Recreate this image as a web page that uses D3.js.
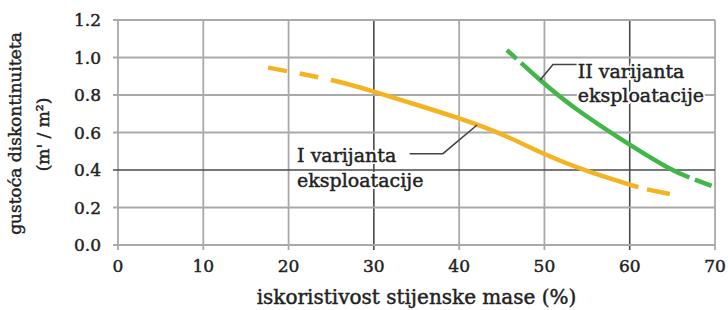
<!DOCTYPE html>
<html>
<head>
<meta charset="utf-8">
<script src="https://cdn.jsdelivr.net/npm/d3@7"></script>
<style>
  body { margin: 0; background: #fff; }
  text { font-family: "DejaVu Serif", "Liberation Serif", serif; fill: #222; stroke: #222; stroke-width: 0.45px; }
</style>
</head>
<body>
<script>
// podaci ocitani sa slike
const xTicks = [0, 10, 20, 30, 40, 50, 60, 70];
const yTicks = [0, 0.2, 0.4, 0.6, 0.8, 1.0, 1.2];
const darkX = [30, 60];
const darkY = [0.4];

// I varijanta eksploatacije (zuta)
const var1X = [17.6, 25, 30, 35, 40, 45, 50, 55, 60, 62, 64.7];
const var1Y = [0.946, 0.88, 0.818, 0.748, 0.675, 0.59, 0.485, 0.395, 0.322, 0.297, 0.272];

// II varijanta eksploatacije (zelena)
const var2X = [45.6, 49.5, 53.9, 60, 64.4, 67, 69.6];
const var2Y = [1.04, 0.88, 0.72, 0.535, 0.415, 0.36, 0.315];

const xTitle = "iskoristivost stijenske mase (%)";
const yTitle1 = "gustoća diskontinuiteta";
const yTitle2 = "(m' / m²)";
const label1 = ["I varijanta", "eksploatacije"];
const label2 = ["II varijanta", "eksploatacije"];

const WIDTH = 728;
const HEIGHT = 310;
const margin = {top: 20, right: 13, bottom: 65, left: 118};

const x = d3.scaleLinear().domain([0, 70]).range([margin.left, WIDTH - margin.right]);
const y = d3.scaleLinear().domain([0, 1.2]).range([HEIGHT - margin.bottom, margin.top]);

const svg = d3.select("body").append("svg")
    .attr("width", WIDTH)
    .attr("height", HEIGHT);

// mreza
const light = "#a9a9a9";
const dark = "#4a4a4a";

svg.append("g").selectAll("line")
  .data(xTicks)
  .enter().append("line")
  .attr("x1", d => x(d)).attr("x2", d => x(d))
  .attr("y1", y(0) + 5).attr("y2", y(1.2))
  .attr("stroke", d => darkX.includes(d) ? dark : light)
  .attr("stroke-width", d => darkX.includes(d) ? 1.6 : 1.8);

svg.append("g").selectAll("line")
  .data(yTicks)
  .enter().append("line")
  .attr("x1", x(0) - 5).attr("x2", x(70))
  .attr("y1", d => y(d)).attr("y2", d => y(d))
  .attr("stroke", d => darkY.includes(d) ? dark : light)
  .attr("stroke-width", d => darkY.includes(d) ? 1.6 : 1.8);

// oznake osi
svg.append("g").selectAll("text")
  .data(yTicks)
  .enter().append("text")
  .attr("x", x(0) - 17)
  .attr("y", d => y(d) + 6)
  .attr("text-anchor", "end")
  .attr("font-size", 17)
  .text(d => d3.format(".1f")(d));

svg.append("g").selectAll("text")
  .data(xTicks)
  .enter().append("text")
  .attr("x", d => x(d))
  .attr("y", y(0) + 27)
  .attr("text-anchor", "middle")
  .attr("font-size", 17)
  .text(d => d);

svg.append("text")
  .attr("x", (x(0) + x(70)) / 2)
  .attr("y", HEIGHT - 6)
  .attr("text-anchor", "middle")
  .attr("font-size", 20)
  .text(xTitle);

const ty = (y(0) + y(1.2)) / 2;
svg.append("text")
  .attr("transform", `translate(21,${ty + 1}) rotate(-90)`)
  .attr("text-anchor", "middle")
  .attr("font-size", 17)
  .text(yTitle1);
svg.append("text")
  .attr("transform", `translate(49,${ty + 2}) rotate(-90)`)
  .attr("text-anchor", "middle")
  .attr("font-size", 17)
  .text(yTitle2);

// krivulje
const line = d3.line()
  .x(d => x(d[0]))
  .y(d => y(d[1]))
  .curve(d3.curveNatural);

// pocetak i kraj krivulje su crtkani
function drawCurve(xs, ys, color, nDash, dash, gap, solidTo, tailGap) {
  const pts = xs.map((v, i) => [v, ys[i]]);
  const path = svg.append("path")
    .attr("d", line(pts))
    .attr("fill", "none")
    .attr("stroke", color)
    .attr("stroke-width", 4.5);
  const node = path.node();
  const L = node.getTotalLength();
  let lo = 0, hi = L;
  for (let k = 0; k < 30; k++) {
    const mid = (lo + hi) / 2;
    if (node.getPointAtLength(mid).x < x(solidTo)) lo = mid; else hi = mid;
  }
  const b = lo;
  const arr = [];
  for (let i = 0; i < nDash; i++) arr.push(dash, gap);
  const s = nDash * (dash + gap);
  arr.push(b - s, tailGap, L - b - tailGap + 2, 10);
  path.attr("stroke-dasharray", arr.map(v => v.toFixed(1)).join(" "));
}

drawCurve(var1X, var1Y, "#f4b321", 2, 19, 13, 61.0, 9);
drawCurve(var2X, var2Y, "#43b649", 1, 13, 6, 67.0, 6);

// natpisi s linijama
const leader = d3.line().x(d => x(d[0])).y(d => y(d[1]));
const leader1 = [[34.2, 0.487], [38.1, 0.487], [42.1, 0.64]];
const leader2 = [[53.8, 0.963], [51.0, 0.963], [49.5, 0.88]];

[leader1, leader2].forEach(p => {
  svg.append("path")
    .attr("d", leader(p))
    .attr("fill", "none")
    .attr("stroke", "#444")
    .attr("stroke-width", 1.6);
});

function label(lines, x0, y0, step) {
  lines.forEach((t, i) => {
    // bijeli obrub ispod teksta
    svg.append("text")
      .attr("x", x(x0))
      .attr("y", y(y0) + i * step)
      .attr("font-size", 19)
      .style("stroke", "#fff")
      .style("stroke-width", "4px")
      .style("fill", "#fff")
      .text(t);
    svg.append("text")
      .attr("x", x(x0))
      .attr("y", y(y0) + i * step)
      .attr("font-size", 19)
      .text(t);
  });
}
label(label1, 21.0, 0.443, 25);
label(label2, 53.9, 0.891, 24);
</script>
</body>
</html>
